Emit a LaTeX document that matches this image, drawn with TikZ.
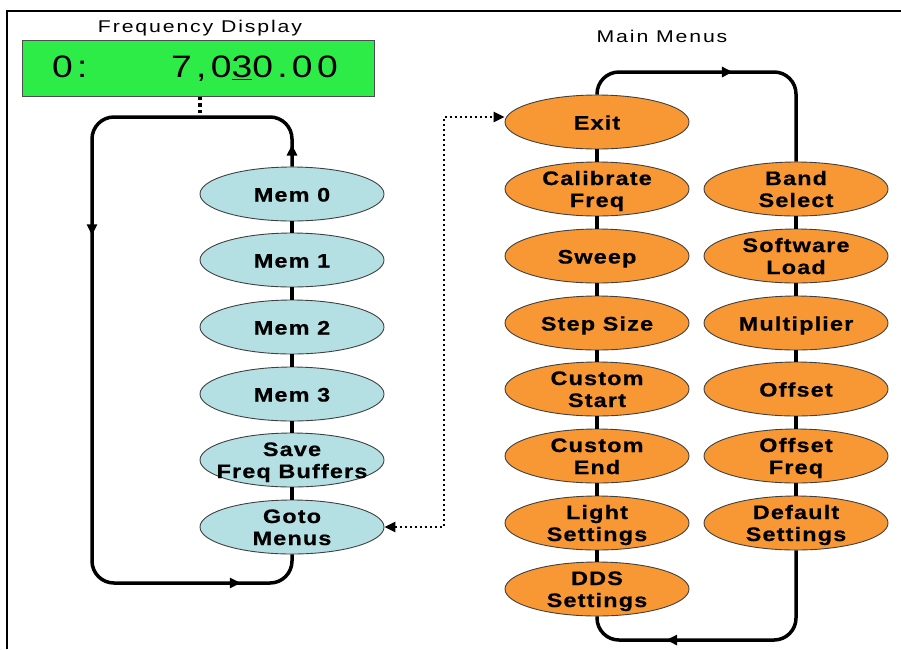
\documentclass[tikz,border=0pt]{standalone}
\usepackage{fontspec}
\setmainfont{Liberation Sans}
\newfontfamily\nodefont[LetterSpace=6,FakeStretch=1.2,BoldFeatures={FakeBold=0.6}]{Liberation Sans}
\newfontfamily\titlefont[LetterSpace=11,FakeStretch=1.25]{Liberation Sans}
\newfontfamily\dispfont[LetterSpace=14,FakeStretch=1.2]{Liberation Sans}
\usetikzlibrary{shapes.geometric,arrows.meta,decorations.markings}
\definecolor{memblue}{RGB}{180,224,228}
\definecolor{menuorange}{RGB}{247,152,52}
\definecolor{dispgreen}{RGB}{45,236,72}
\newcommand\twol[2]{\begin{tabular}[b]{@{}c@{}}#1\\#2\end{tabular}}
\tikzset{
  Hd/.tip={Triangle[length=11pt,width=10pt]},
  oval/.style={ellipse, draw=black!75, line width=0.9pt, minimum width=184pt, minimum height=54pt, inner sep=0pt},
  memoval/.style={oval, fill=memblue},
  menuoval/.style={oval, fill=menuorange},
  lbl/.style={font=\nodefont\bfseries\fontsize{19.5}{22}\selectfont, inner sep=0pt, anchor=base},
  ttl/.style={font=\titlefont\fontsize{17}{20}\selectfont, inner sep=0pt},
  dtext/.style={font=\dispfont\fontsize{31}{36}\selectfont, inner sep=0pt},
  link/.style={line width=3.5pt},
  loopline/.style={line width=3.5pt, rounded corners=22pt},
  dots/.style={line width=2.5pt, dash pattern=on 2.5pt off 2.5pt},
}
\begin{document}
\begin{tikzpicture}[x=1pt,y=-1pt]
\useasboundingbox (0,0) rectangle (901,649);
% frame
\draw[line width=2pt] (7,649) -- (7,11) -- (901,11);
% titles
\node[ttl, anchor=base] (ftitle) at (200,32) {Frequency Display};
\node[ttl, anchor=base] (mtitle) at (662,42) {Main Menus};
% display
\node[draw=black!70, line width=1pt, fill=dispgreen, minimum width=352pt, minimum height=56pt, inner sep=0pt] (disp) at (198,68) {};
\node[dtext, anchor=base west] (d0) at (52,77) {0:};
\node[dtext, anchor=base west] (d1) at (171,77) {7,0\underline{3}0.00};
% left column
\foreach \n/\y/\o/\t in {m0/194/7.5/Mem 0, m1/260/7.5/Mem 1, m2/327/7.5/Mem 2, m3/394/7.5/Mem 3, save/460/18/{\twol{Save}{Freq Buffers}}, goto/527/18/{\twol{Goto}{Menus}}} {
  \node[memoval] (\n) at (292,\y) {};
  \node[lbl] (\n-t) at ([yshift=-\o pt]\n.center) {\t};
}
% right columns
\foreach \n/\y/\o/\t in {exit/122/7.5/Exit, cal/189/18/{\twol{Calibrate}{Freq}}, sweep/256/7.5/Sweep, step/323/7.5/Step Size, cstart/389/18/{\twol{Custom}{Start}}, cend/456/18/{\twol{Custom}{End}}, light/523/18/{\twol{Light}{Settings}}, dds/589/18/{\twol{DDS}{Settings}}} {
  \node[menuoval] (\n) at (597,\y) {};
  \node[lbl] (\n-t) at ([yshift=-\o pt]\n.center) {\t};
}
\foreach \n/\y/\o/\t in {band/189/18/{\twol{Band}{Select}}, soft/256/18/{\twol{Software}{Load}}, mult/323/7.5/Multiplier, offs/389/7.5/Offset, ofreq/456/18/{\twol{Offset}{Freq}}, deflt/523/18/{\twol{Default}{Settings}}} {
  \node[menuoval] (\n) at (796,\y) {};
  \node[lbl] (\n-t) at ([yshift=-\o pt]\n.center) {\t};
}
% column links
\foreach \a/\b in {m0/m1, m1/m2, m2/m3, m3/save, save/goto, exit/cal, cal/sweep, sweep/step, step/cstart, cstart/cend, cend/light, light/dds, band/soft, soft/mult, mult/offs, offs/ofreq, ofreq/deflt}
  \draw[link] (\a.south) -- (\b.north);
% left loop
\draw[loopline, postaction={decorate}, decoration={markings,
    mark=at position 22pt with {\arrow{Hd}},
    mark=at position 349pt with {\arrow{Hd}},
    mark=at position 836pt with {\arrow{Hd}}}]
  (m0.north) -- (292,117) -- (92,117) -- (92,583) -- (292,583) -- (goto.south);
% display to loop
\coordinate (top) at (200,117);
\draw[line width=4pt, dash pattern=on 3.5pt off 3pt] (disp.south -| top) -- (top);
% right loops
\draw[loopline, postaction={decorate}, decoration={markings,
    mark=at position 149pt with {\arrow{Hd}}}]
  (exit.north) -- (597,72) -- (796,72) -- (band.north);
\draw[loopline, postaction={decorate}, decoration={markings,
    mark=at position 210pt with {\arrow{Hd}}}]
  (deflt.south) -- (796,640) -- (597,640) -- (dds.south);
% dotted link
\draw[dots, {Hd}-{Hd}] (goto.east) -- (444,527) -- (444,117) -- ([yshift=5pt]exit.west);
\end{tikzpicture}
\end{document}
